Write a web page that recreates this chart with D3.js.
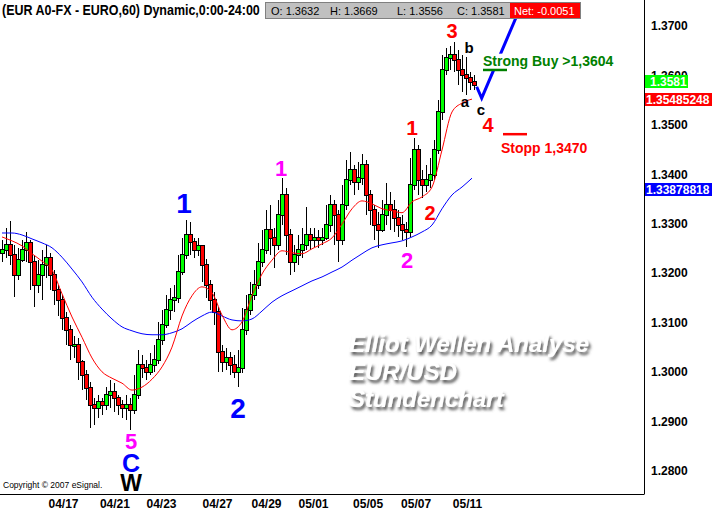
<!DOCTYPE html>
<html><head><meta charset="utf-8">
<script src="https://cdn.jsdelivr.net/npm/d3@7"></script>
<style>
html,body{margin:0;padding:0;background:#fff;}
svg{display:block;font-family:"Liberation Sans",Arial,Helvetica,sans-serif;}
</style></head><body>
<svg id="chart" width="715" height="526"></svg>
<script>
// ---- data (EUR/USD, aggregated hourly candles) ----
const open = [
1.3240,1.3247,1.3257,1.3236,1.3196,1.3226,1.3247,1.3261,1.3222,1.3176,
1.3196,1.3216,1.3230,1.3196,1.3166,1.3145,1.3109,1.3085,1.3054,1.3054,
1.3020,1.2993,1.2967,1.2933,1.2927,1.2939,1.2933,1.2953,1.2959,1.2947,
1.2933,1.2927,1.2933,1.2923,1.2953,1.3014,1.3008,1.3000,1.3014,1.3024,
1.3064,1.3095,1.3125,1.3145,1.3149,1.3202,1.3236,1.3277,1.3263,1.3247,
1.3255,1.3216,1.3176,1.3145,1.3121,1.3040,1.3020,1.3028,1.3014,1.3000,
1.3008,1.3085,1.3125,1.3155,1.3176,1.3222,1.3247,1.3287,1.3271,1.3257,
1.3317,1.3358,1.3277,1.3222,1.3236,1.3247,1.3257,1.3277,1.3267,1.3271,
1.3267,1.3271,1.3297,1.3338,1.3317,1.3267,1.3338,1.3388,1.3409,1.3384,
1.3392,1.3419,1.3358,1.3328,1.3297,1.3287,1.3317,1.3338,1.3328,1.3311,
1.3297,1.3287,1.3283,1.3378,1.3449,1.3388,1.3378,1.3388,1.3398,1.3449,
1.3526,1.3611,1.3635,1.3641,1.3631,1.3611,1.3601,1.3595,1.3587];
const high = [
1.3267,1.3291,1.3305,1.3257,1.3250,1.3267,1.3283,1.3267,1.3236,1.3226,
1.3247,1.3257,1.3240,1.3206,1.3176,1.3155,1.3121,1.3095,1.3072,1.3068,
1.3024,1.3004,1.2980,1.2947,1.2953,1.2947,1.2970,1.2983,1.2977,1.2953,
1.2943,1.2953,1.2947,1.2993,1.3044,1.3034,1.3024,1.3038,1.3054,1.3101,
1.3125,1.3155,1.3170,1.3176,1.3236,1.3271,1.3307,1.3303,1.3271,1.3271,
1.3257,1.3228,1.3186,1.3162,1.3131,1.3054,1.3048,1.3040,1.3034,1.3044,
1.3129,1.3155,1.3182,1.3206,1.3261,1.3287,1.3328,1.3338,1.3291,1.3348,
1.3392,1.3372,1.3290,1.3257,1.3277,1.3291,1.3334,1.3291,1.3291,1.3287,
1.3291,1.3338,1.3358,1.3348,1.3327,1.3378,1.3429,1.3445,1.3419,1.3425,
1.3441,1.3429,1.3368,1.3338,1.3324,1.3348,1.3382,1.3364,1.3348,1.3328,
1.3317,1.3303,1.3433,1.3473,1.3459,1.3409,1.3419,1.3433,1.3469,1.3550,
1.3641,1.3655,1.3659,1.3668,1.3651,1.3641,1.3637,1.3607,1.3601];
const low = [
1.3223,1.3230,1.3216,1.3151,1.3186,1.3223,1.3223,1.3166,1.3131,1.3160,
1.3145,1.3190,1.3166,1.3135,1.3113,1.3085,1.3054,1.3024,1.3028,1.2983,
1.2963,1.2943,1.2886,1.2892,1.2906,1.2913,1.2923,1.2927,1.2919,1.2913,
1.2906,1.2902,1.2882,1.2915,1.2945,1.2987,1.2983,1.2993,1.2999,1.3015,
1.3055,1.3088,1.3105,1.3121,1.3140,1.3195,1.3228,1.3236,1.3230,1.3234,
1.3182,1.3149,1.3125,1.3095,1.2999,1.2999,1.3004,1.2993,1.2987,1.2969,
1.2998,1.3075,1.3115,1.3145,1.3168,1.3212,1.3238,1.3236,1.3210,1.3247,
1.3297,1.3236,1.3196,1.3202,1.3216,1.3230,1.3247,1.3247,1.3253,1.3250,
1.3257,1.3267,1.3283,1.3257,1.3222,1.3257,1.3328,1.3378,1.3358,1.3368,
1.3378,1.3317,1.3297,1.3267,1.3251,1.3283,1.3297,1.3287,1.3283,1.3273,
1.3267,1.3253,1.3273,1.3368,1.3358,1.3352,1.3364,1.3372,1.3388,1.3441,
1.3510,1.3600,1.3611,1.3607,1.3580,1.3566,1.3560,1.3570,1.3570];
const close = [
1.3247,1.3257,1.3236,1.3196,1.3226,1.3247,1.3261,1.3222,1.3176,1.3196,
1.3216,1.3230,1.3196,1.3166,1.3145,1.3109,1.3085,1.3054,1.3054,1.3020,
1.2993,1.2967,1.2933,1.2927,1.2939,1.2933,1.2953,1.2959,1.2947,1.2933,
1.2927,1.2933,1.2923,1.2953,1.3014,1.3008,1.3000,1.3014,1.3024,1.3064,
1.3095,1.3125,1.3145,1.3149,1.3202,1.3236,1.3277,1.3263,1.3247,1.3255,
1.3216,1.3176,1.3145,1.3121,1.3040,1.3020,1.3028,1.3014,1.3000,1.3008,
1.3085,1.3125,1.3155,1.3176,1.3222,1.3247,1.3287,1.3271,1.3257,1.3317,
1.3358,1.3277,1.3222,1.3236,1.3247,1.3257,1.3277,1.3267,1.3271,1.3267,
1.3271,1.3297,1.3338,1.3317,1.3267,1.3338,1.3388,1.3409,1.3384,1.3392,
1.3419,1.3358,1.3328,1.3297,1.3287,1.3317,1.3338,1.3328,1.3311,1.3297,
1.3287,1.3283,1.3378,1.3449,1.3388,1.3378,1.3388,1.3398,1.3449,1.3526,
1.3611,1.3635,1.3641,1.3631,1.3611,1.3601,1.3595,1.3587,1.3581];

// moving averages sampled every 2.5 candles
const maStep = 2.5;
const redMA = [
1.3273,1.3265,1.3255,1.3239,1.3224,1.3206,1.3158,1.3111,1.3070,1.3028,
1.3000,1.2987,1.2977,1.2963,1.2969,1.2985,1.3010,1.3050,1.3113,1.3154,
1.3172,1.3160,1.3115,1.3085,1.3101,1.3154,1.3198,1.3226,1.3245,1.3241,
1.3239,1.3249,1.3259,1.3271,1.3299,1.3330,1.3346,1.3340,1.3330,1.3326,
1.3322,1.3344,1.3354,1.3374,1.3449,1.3526,1.3544,1.3552];
const blueMA = [
1.3281,1.3281,1.3277,1.3269,1.3261,1.3251,1.3232,1.3208,1.3182,1.3151,
1.3127,1.3107,1.3091,1.3083,1.3077,1.3075,1.3075,1.3079,1.3087,1.3101,
1.3113,1.3121,1.3113,1.3105,1.3103,1.3107,1.3123,1.3141,1.3154,1.3164,
1.3174,1.3184,1.3192,1.3202,1.3212,1.3226,1.3239,1.3251,1.3257,1.3261,
1.3265,1.3273,1.3283,1.3297,1.3330,1.3358,1.3374,1.3392];

const priceTicks = [1.28,1.29,1.30,1.31,1.32,1.33,1.34,1.35,1.36,1.37];
const dateLabels = ["04/17","04/21","04/23","04/27","04/29","05/01","05/05","05/07","05/11"];
const datePos = [15.25,28.1,39.75,53.75,66,77.75,91.4,103.4,116.25];

const lastClose = 1.3581, redLast = 1.35485248, blueLast = 1.33878818;
const quote = {O:"1.3632", H:"1.3669", L:"1.3556", C:"1.3581", Net:"-0.0051"};

// ---- drawing ----
const svg = d3.select("#chart");
const x = d3.scaleLinear().domain([0,118]).range([2,474]);
const y = d3.scaleLinear().domain([1.28,1.37]).range([470.6,26]);
const idx = d3.range(close.length);

// candles
const cg = svg.append("g").attr("shape-rendering","crispEdges");
cg.selectAll("rect.wick").data(idx).join("rect").attr("class","wick")
  .attr("x", i => Math.round(x(i)))
  .attr("y", i => Math.round(y(high[i])))
  .attr("width",1)
  .attr("height", i => Math.max(1, Math.round(y(low[i])) - Math.round(y(high[i]))))
  .attr("fill","#000");
idx.forEach(i => {
  const cx = Math.round(x(i));
  const t = Math.round(y(Math.max(open[i],close[i])));
  const b = Math.max(t+1, Math.round(y(Math.min(open[i],close[i]))));
  cg.append("rect").attr("x",cx-2).attr("y",t-1).attr("width",5).attr("height",b-t+2).attr("fill","#000");
  if (b-t > 0) cg.append("rect").attr("x",cx-1).attr("y",t).attr("width",3).attr("height",b-t)
     .attr("fill", close[i] >= open[i] ? "#00ff00" : "#ff0000");
});

// moving averages
const maLine = d3.line().x((d,i)=>x(i*maStep)).y(d=>y(d)).curve(d3.curveMonotoneX);
svg.append("path").datum(blueMA).attr("d",maLine).attr("fill","none").attr("stroke","#0000ff").attr("stroke-width",1);
svg.append("path").datum(redMA).attr("d",maLine).attr("fill","none").attr("stroke","#ff0000").attr("stroke-width",1);

// watermark
const defs = svg.append("defs");
const f = defs.append("filter").attr("id","shadow").attr("x","-10%").attr("y","-30%").attr("width","130%").attr("height","180%");
f.append("feGaussianBlur").attr("in","SourceAlpha").attr("stdDeviation",1.8).attr("result","b");
f.append("feOffset").attr("in","b").attr("dx",2).attr("dy",3).attr("result","o");
f.append("feFlood").attr("flood-color","#555").attr("result","c");
f.append("feComposite").attr("in","c").attr("in2","o").attr("operator","in").attr("result","s");
const fm = f.append("feMerge");
fm.append("feMergeNode").attr("in","s");
fm.append("feMergeNode").attr("in","SourceGraphic");
const wm = svg.append("g").attr("filter","url(#shadow)").attr("font-size",24).attr("font-weight","bold")
  .attr("font-style","italic").attr("fill","#fff");
[["Elliot Wellen Analyse",352],["EUR/USD",380],["Stundenchart",407]].forEach(([t,yy])=>{
  wm.append("text").attr("x",349).attr("y",yy).text(t);
});

// axes
svg.append("line").attr("x1",0).attr("x2",644).attr("y1",494.5).attr("y2",494.5).attr("stroke","#000");
svg.append("line").attr("x1",644.5).attr("x2",644.5).attr("y1",0).attr("y2",494.5).attr("stroke","#000");
const ya = svg.append("g").attr("transform","translate(644,0)")
  .call(d3.axisRight(y).tickValues(priceTicks).tickFormat(d3.format(".4f")).tickSize(0).tickPadding(7));
ya.select(".domain").remove();
ya.selectAll("text").attr("font-size",12).attr("font-weight","bold").attr("fill","#000")
  .attr("font-family","'Liberation Sans',Arial,sans-serif");
const xa = svg.append("g").attr("transform","translate(0,494)")
  .call(d3.axisBottom(x).tickValues(datePos).tickFormat((d,i)=>dateLabels[i]).tickSize(0).tickPadding(5));
xa.select(".domain").remove();
xa.selectAll("text").attr("font-size",12).attr("font-weight","bold").attr("fill","#000")
  .attr("font-family","'Liberation Sans',Arial,sans-serif");

// value boxes
[[lastClose,"1.3581","#00ff00",43,-3.3],[redLast,"1.35485248","#ff0000",67,-1.8],[blueLast,"1.33878818","#0000ff",67,9]]
.forEach(([v,t,col,w,off])=>{
  const yc = y(v)+off;
  svg.append("rect").attr("x",645).attr("y",Math.round(yc-6.5)).attr("width",w).attr("height",13).attr("fill",col);
  svg.append("text").attr("x",col==="#00ff00"?650:646).attr("y",Math.round(yc-6.5)+11).attr("font-size",12)
    .attr("font-weight","bold").attr("fill","#fff").text(t);
});

// wave labels
const lbl = (t,i,p,c,s,w="bold") => svg.append("text").attr("x",x(i)).attr("y",y(p)).attr("text-anchor","middle")
  .attr("font-size",s).attr("font-weight",w).attr("fill",c).text(t);
lbl("1",45.5,1.3322,"#0000ff",28);
lbl("2",59,1.2906,"#0000ff",28);
lbl("5",32.25,1.2844,"#ff00ff",22);
lbl("C",32.25,1.2797,"#0000ff",25);
lbl("W",32.25,1.2759,"#000",23);
lbl("1",69.75,1.3396,"#ff00ff",22);
lbl("2",101.25,1.3210,"#ff00ff",22);
lbl("1",102.5,1.3479,"#ff0000",21);
lbl("2",107,1.3307,"#ff0000",20);
lbl("3",112.5,1.3676,"#ff0000",20);
lbl("4",121.5,1.3485,"#ff0000",20);
lbl("b",116.75,1.3645,"#000",15);
lbl("a",115.75,1.3536,"#000",15);
lbl("c",119.75,1.3520,"#000",15);

// blue check mark
const check = [[118.67,1.3577],[119.92,1.3554],[129.5,1.3736]];
svg.append("path").attr("d", d3.line().x(d=>x(d[0])).y(d=>y(d[1]))(check))
  .attr("fill","none").attr("stroke","#0000ff").attr("stroke-width",3);

// buy / stop notes
svg.append("rect").attr("x",x(120)).attr("y",y(1.3644)).attr("width",140).attr("height",y(1.3610)-y(1.3644)).attr("fill","#fff");
svg.append("text").attr("x",x(120.25)).attr("y",y(1.3619)).attr("font-size",14).attr("font-weight","bold")
  .attr("fill","#008000").text("Strong Buy >1,3604");
svg.append("line").attr("x1",x(120.25)).attr("x2",x(126.25)).attr("y1",y(1.3611)).attr("y2",y(1.3611))
  .attr("stroke","#008000").attr("stroke-width",2.5);
svg.append("text").attr("x",x(124.75)).attr("y",y(1.3443)).attr("font-size",14).attr("font-weight","bold")
  .attr("fill","#ff0000").text("Stopp 1,3470");
svg.append("line").attr("x1",x(125.25)).attr("x2",x(131.25)).attr("y1",y(1.3481)).attr("y2",y(1.3481))
  .attr("stroke","#ff0000").attr("stroke-width",2.5);

// header (condensed bold title)
const title = svg.append("text").attr("font-size",15).attr("font-weight","bold")
  .text("(EUR A0-FX - EURO,60) Dynamic,0:00-24:00");
const tl = title.node().getComputedTextLength();
title.attr("transform",`translate(2,15) scale(${258/tl},1)`);
svg.append("rect").attr("x",265.5).attr("y",2.5).attr("width",315).attr("height",16).attr("fill","#c0c0c0").attr("stroke","#808080");
svg.append("rect").attr("x",510).attr("y",3).attr("width",70).attr("height",15).attr("fill","#ff0000");
const hq = [["O: "+quote.O,271],["H: "+quote.H,330],["L: "+quote.L,397],["C: "+quote.C,457]];
hq.forEach(([t,xx])=>svg.append("text").attr("x",xx).attr("y",14.5).attr("font-size",11).attr("fill","#000").text(t));
svg.append("text").attr("x",514).attr("y",14.5).attr("font-size",11).attr("fill","#fff").text("Net: "+quote.Net);

// copyright
svg.append("text").attr("x",3).attr("y",488).attr("font-size",8.5).attr("fill","#000").text("Copyright \u00a9 2007 eSignal.");
</script>
</body></html>
